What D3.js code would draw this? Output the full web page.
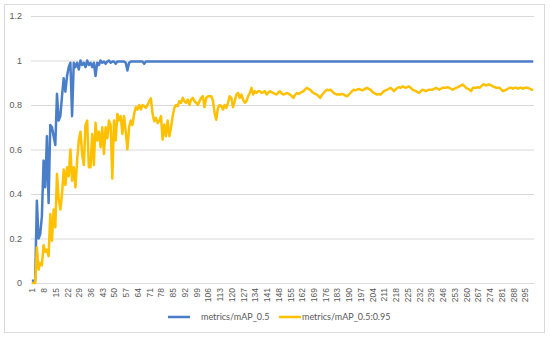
<!DOCTYPE html>
<html>
<head>
<meta charset="utf-8">
<script src="https://cdn.jsdelivr.net/npm/d3@7"></script>
<style>
  body { margin: 0; background: #fff; }
  svg { display: block; font-family: Lato, "Liberation Sans", sans-serif; }
</style>
</head>
<body>
<svg id="chart"></svg>
<script>
// x categories: training epochs 1..300
const epochs = d3.range(1, 301);
const xTickLabels = [1, 8, 15, 22, 29, 36, 43, 50, 57, 64, 71, 78, 85, 92, 99, 106, 113, 120, 127, 134,
  141, 148, 155, 162, 169, 176, 183, 190, 197, 204, 211, 218, 225, 232, 239, 246, 253, 260, 267, 274,
  281, 288, 295];
const yTicks = [0, 0.2, 0.4, 0.6, 0.8, 1, 1.2];
const seriesNames = ['metrics/mAP_0.5', 'metrics/mAP_0.5:0.95'];

// metrics/mAP_0.5
const mAP50 = [
  0.01, 0.01, 0.01, 0.37, 0.2, 0.22, 0.3, 0.55, 0.43, 0.66, 0.36, 0.71, 0.7, 0.66, 0.62, 0.85, 0.73, 0.75, 0.84, 0.92,
  0.86, 0.93, 0.97, 0.99, 0.75, 0.99, 0.97, 0.99, 0.96, 1.0, 0.98, 0.99, 0.97, 1.0, 0.98, 0.99, 0.97, 0.99, 0.93, 0.99,
  0.98, 1.0, 0.99, 0.995, 0.985, 0.995, 1.0, 0.99, 0.995, 0.995, 0.985, 0.995, 0.995, 0.995, 0.995, 0.995, 0.99, 0.955, 0.99, 0.995,
  0.995, 0.995, 0.995, 0.995, 0.995, 0.995, 0.995, 0.985, 0.995, 0.995, 0.995, 0.995, 0.995, 0.995, 0.995, 0.995, 0.995, 0.995, 0.995, 0.995,
  0.995, 0.995, 0.995, 0.995, 0.995, 0.995, 0.995, 0.995, 0.995, 0.995, 0.995, 0.995, 0.995, 0.995, 0.995, 0.995, 0.995, 0.995, 0.995, 0.995,
  0.995, 0.995, 0.995, 0.995, 0.995, 0.995, 0.995, 0.995, 0.995, 0.995, 0.995, 0.995, 0.995, 0.995, 0.995, 0.995, 0.995, 0.995, 0.995, 0.995,
  0.995, 0.995, 0.995, 0.995, 0.995, 0.995, 0.995, 0.995, 0.995, 0.995, 0.995, 0.995, 0.995, 0.995, 0.995, 0.995, 0.995, 0.995, 0.995, 0.995,
  0.995, 0.995, 0.995, 0.995, 0.995, 0.995, 0.995, 0.995, 0.995, 0.995, 0.995, 0.995, 0.995, 0.995, 0.995, 0.995, 0.995, 0.995, 0.995, 0.995,
  0.995, 0.995, 0.995, 0.995, 0.995, 0.995, 0.995, 0.995, 0.995, 0.995, 0.995, 0.995, 0.995, 0.995, 0.995, 0.995, 0.995, 0.995, 0.995, 0.995,
  0.995, 0.995, 0.995, 0.995, 0.995, 0.995, 0.995, 0.995, 0.995, 0.995, 0.995, 0.995, 0.995, 0.995, 0.995, 0.995, 0.995, 0.995, 0.995, 0.995,
  0.995, 0.995, 0.995, 0.995, 0.995, 0.995, 0.995, 0.995, 0.995, 0.995, 0.995, 0.995, 0.995, 0.995, 0.995, 0.995, 0.995, 0.995, 0.995, 0.995,
  0.995, 0.995, 0.995, 0.995, 0.995, 0.995, 0.995, 0.995, 0.995, 0.995, 0.995, 0.995, 0.995, 0.995, 0.995, 0.995, 0.995, 0.995, 0.995, 0.995,
  0.995, 0.995, 0.995, 0.995, 0.995, 0.995, 0.995, 0.995, 0.995, 0.995, 0.995, 0.995, 0.995, 0.995, 0.995, 0.995, 0.995, 0.995, 0.995, 0.995,
  0.995, 0.995, 0.995, 0.995, 0.995, 0.995, 0.995, 0.995, 0.995, 0.995, 0.995, 0.995, 0.995, 0.995, 0.995, 0.995, 0.995, 0.995, 0.995, 0.995,
  0.995, 0.995, 0.995, 0.995, 0.995, 0.995, 0.995, 0.995, 0.995, 0.995, 0.995, 0.995, 0.995, 0.995, 0.995, 0.995, 0.995, 0.995, 0.995, 0.995
];

// metrics/mAP_0.5:0.95
const mAP5095 = [
  0, 0, 0, 0.16, 0.06, 0.09, 0.08, 0.17, 0.14, 0.15, 0.12, 0.31, 0.19, 0.33, 0.25, 0.49, 0.38, 0.33, 0.4, 0.51,
  0.44, 0.52, 0.48, 0.6, 0.46, 0.52, 0.43, 0.55, 0.64, 0.68, 0.58, 0.53, 0.71, 0.73, 0.52, 0.52, 0.67, 0.53, 0.72, 0.64,
  0.68, 0.61, 0.7, 0.58, 0.7, 0.65, 0.73, 0.71, 0.47, 0.73, 0.64, 0.76, 0.73, 0.75, 0.67, 0.75, 0.68, 0.6, 0.7, 0.73,
  0.71, 0.76, 0.79, 0.78, 0.8, 0.78, 0.8, 0.795, 0.787, 0.8, 0.817, 0.83, 0.76, 0.727, 0.742, 0.719, 0.727, 0.75, 0.644, 0.712,
  0.66, 0.73, 0.66, 0.7, 0.75, 0.787, 0.8, 0.795, 0.817, 0.81, 0.832, 0.817, 0.81, 0.824, 0.8, 0.824, 0.832, 0.817, 0.81, 0.8,
  0.817, 0.832, 0.84, 0.79, 0.832, 0.839, 0.839, 0.839, 0.82, 0.764, 0.734, 0.787, 0.8, 0.795, 0.78, 0.8, 0.787, 0.81, 0.839, 0.832,
  0.79, 0.817, 0.847, 0.854, 0.832, 0.847, 0.824, 0.81, 0.817, 0.839, 0.854, 0.877, 0.847, 0.862, 0.854, 0.862, 0.862, 0.854, 0.858, 0.862,
  0.847, 0.855, 0.862, 0.858, 0.854, 0.85, 0.847, 0.856, 0.862, 0.852, 0.847, 0.85, 0.854, 0.851, 0.847, 0.84, 0.832, 0.845, 0.854, 0.85,
  0.854, 0.858, 0.862, 0.87, 0.877, 0.872, 0.869, 0.86, 0.854, 0.85, 0.847, 0.84, 0.832, 0.845, 0.854, 0.862, 0.869, 0.866, 0.869, 0.862,
  0.854, 0.85, 0.847, 0.848, 0.847, 0.85, 0.847, 0.842, 0.839, 0.846, 0.854, 0.862, 0.869, 0.866, 0.869, 0.872, 0.869, 0.866, 0.869, 0.874,
  0.877, 0.872, 0.869, 0.86, 0.854, 0.85, 0.847, 0.849, 0.847, 0.855, 0.862, 0.866, 0.869, 0.873, 0.877, 0.87, 0.862, 0.87, 0.877, 0.88,
  0.877, 0.884, 0.88, 0.877, 0.88, 0.884, 0.877, 0.869, 0.866, 0.862, 0.858, 0.854, 0.862, 0.869, 0.866, 0.862, 0.866, 0.869, 0.869, 0.869,
  0.873, 0.877, 0.873, 0.869, 0.873, 0.877, 0.877, 0.877, 0.88, 0.877, 0.873, 0.869, 0.873, 0.877, 0.88, 0.884, 0.888, 0.892, 0.885, 0.877,
  0.873, 0.869, 0.862, 0.877, 0.877, 0.877, 0.88, 0.877, 0.884, 0.892, 0.892, 0.888, 0.892, 0.892, 0.888, 0.884, 0.88, 0.877, 0.877, 0.877,
  0.869, 0.862, 0.866, 0.869, 0.873, 0.877, 0.877, 0.873, 0.877, 0.877, 0.873, 0.877, 0.877, 0.873, 0.877, 0.877, 0.877, 0.873, 0.869, 0.869
];

class LineChart {
  constructor(_config) {
    this.config = {
      parentElement: _config.parentElement,
      containerWidth: _config.containerWidth || 550,
      containerHeight: _config.containerHeight || 338,
      margin: { top: 16, right: 16, bottom: 55, left: 31 },
      colors: ['#4a7ec9', '#ffc000']
    };
    this.initVis();
  }

  initVis() {
    let vis = this;
    vis.width = vis.config.containerWidth - vis.config.margin.left - vis.config.margin.right;
    vis.height = vis.config.containerHeight - vis.config.margin.top - vis.config.margin.bottom;

    vis.svg = d3.select(vis.config.parentElement)
      .attr('width', vis.config.containerWidth)
      .attr('height', vis.config.containerHeight);

    // light chart-area frame like excel
    vis.svg.append('rect')
      .attr('x', 4.5).attr('y', 4.5)
      .attr('width', vis.config.containerWidth - 10)
      .attr('height', vis.config.containerHeight - 10)
      .attr('fill', '#fff')
      .attr('stroke', '#d9d9d9');

    vis.chart = vis.svg.append('g')
      .attr('transform', `translate(${vis.config.margin.left}, ${vis.config.margin.top})`);

    vis.xScale = d3.scalePoint()
      .domain(epochs)
      .range([0, vis.width])
      .padding(0.5);

    vis.yScale = d3.scaleLinear()
      .domain([0, 1.2])
      .range([vis.height, 0]);

    vis.renderVis();
  }

  renderVis() {
    let vis = this;

    // y axis + gridlines
    const yAxis = d3.axisLeft(vis.yScale)
      .tickValues(yTicks)
      .tickSize(-vis.width)
      .tickPadding(9)
      .tickFormat(d => d);

    const yG = vis.chart.append('g').call(yAxis);
    yG.select('.domain').remove();
    yG.selectAll('line').attr('stroke', '#d9d9d9');
    yG.selectAll('text').attr('fill', '#595959').style('font-size', '9px');

    // x axis, labels turned vertical
    const xAxis = d3.axisBottom(vis.xScale)
      .tickValues(xTickLabels)
      .tickSize(0);

    const xG = vis.chart.append('g')
      .attr('transform', `translate(0, ${vis.height})`)
      .call(xAxis);
    xG.select('.domain').attr('stroke', '#d9d9d9');
    xG.selectAll('text')
      .attr('fill', '#595959')
      .style('font-size', '8.5px')
      .attr('transform', 'rotate(-90)')
      .attr('text-anchor', 'end')
      .attr('x', -5)
      .attr('y', 0)
      .attr('dy', '0.35em');

    const line = d3.line()
      .x((d, i) => vis.xScale(epochs[i]))
      .y(d => vis.yScale(d));

    [mAP50, mAP5095].forEach((series, i) => {
      vis.chart.append('path')
        .datum(series)
        .attr('fill', 'none')
        .attr('stroke', vis.config.colors[i])
        .attr('stroke-width', 2.5)
        .attr('stroke-linejoin', 'round')
        .attr('d', line);
    });

    // legend
    const legendX = [168, 279];
    const legend = vis.svg.append('g').attr('transform', 'translate(0, 317)');
    seriesNames.forEach((name, i) => {
      legend.append('line')
        .attr('x1', legendX[i]).attr('x2', legendX[i] + 22)
        .attr('y1', 0).attr('y2', 0)
        .attr('stroke', vis.config.colors[i])
        .attr('stroke-width', 2.5);
      legend.append('text')
        .attr('x', legendX[i] + (i === 0 ? 33 : 23))
        .attr('y', 0)
        .attr('dy', '0.35em')
        .attr('fill', '#595959')
        .style('font-size', '9px')
        .text(name);
    });
  }
}

new LineChart({ parentElement: '#chart' });
</script>
</body>
</html>
